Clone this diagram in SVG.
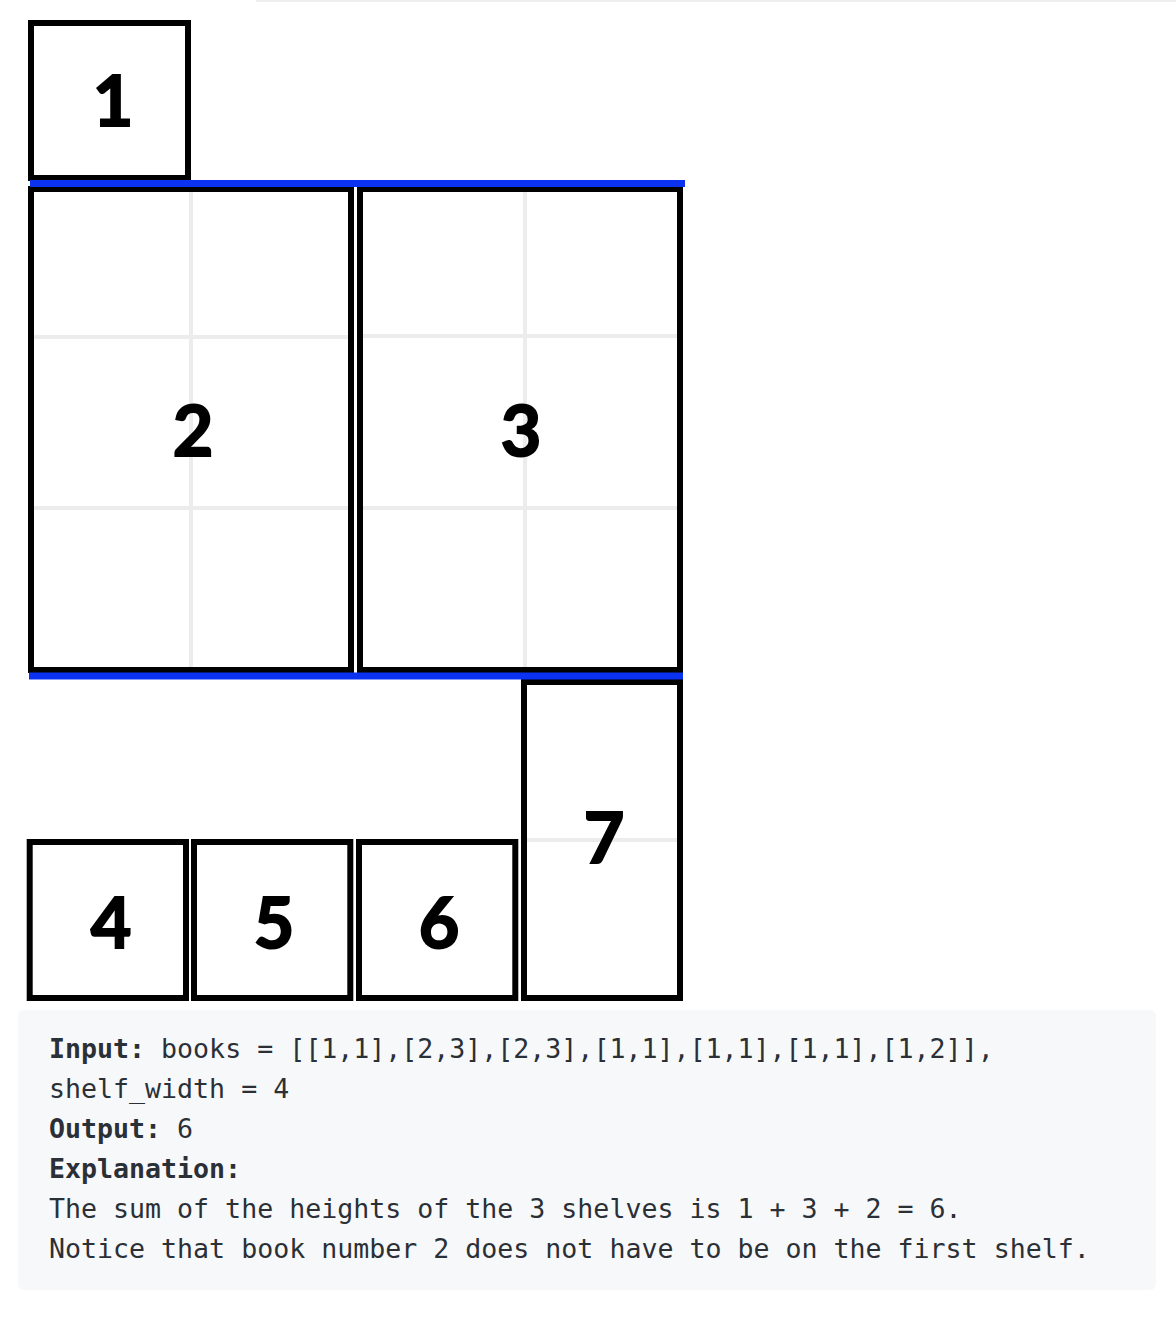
<svg xmlns="http://www.w3.org/2000/svg" width="1176" height="1326" viewBox="0 0 1176 1326">
<style>
.book{fill:#fff;stroke:#000;stroke-width:6}
.grid{stroke:#ececec;stroke-width:4}
.shelf{stroke:#0a32f0;stroke-width:7}
.num{font-family:Lato,"Open Sans",sans-serif;font-weight:700;font-size:70px;fill:#000;stroke:#000;stroke-width:2;text-anchor:middle}
.code{font-family:"DejaVu Sans Mono","Liberation Mono",monospace;font-size:26.6px;fill:#2b3036}
.b{font-weight:700}
</style>
<rect width="1176" height="1326" fill="#fff"/>
<line x1="256" y1="1" x2="1176" y2="1" stroke="#eeeeee" stroke-width="2"/>
<g id="book1"><rect class="book" x="31" y="23" width="157" height="155"/><text class="num" x="113" y="126">1</text></g>
<g id="book2"><rect class="book" x="31" y="189" width="320" height="481"/>
<line class="grid" x1="191" y1="192" x2="191" y2="667"/><line class="grid" x1="34" y1="337" x2="348" y2="337"/><line class="grid" x1="34" y1="508" x2="348" y2="508"/>
<text class="num" x="193" y="456">2</text></g>
<g id="book3"><rect class="book" x="360" y="189" width="320" height="481"/>
<line class="grid" x1="525" y1="192" x2="525" y2="667"/><line class="grid" x1="363" y1="336" x2="677" y2="336"/><line class="grid" x1="363" y1="508" x2="677" y2="508"/>
<text class="num" x="521" y="456">3</text></g>
<g id="book4"><rect class="book" x="29.7" y="842" width="156.3" height="156"/><text class="num" x="111" y="948">4</text></g>
<g id="book5"><rect class="book" x="194" y="842" width="156.3" height="156"/><text class="num" x="274" y="948">5</text></g>
<g id="book6"><rect class="book" x="359" y="842" width="156.3" height="156"/><text class="num" x="439" y="948">6</text></g>
<g id="book7"><rect class="book" x="524" y="682" width="156" height="316"/>
<line class="grid" x1="527" y1="840" x2="677" y2="840"/>
<text class="num" x="604" y="863">7</text></g>
<g id="connectors">
<line class="shelf" x1="30" y1="183.5" x2="685" y2="183.5"/>
<line class="shelf" x1="29" y1="676" x2="683" y2="676"/>
</g>
<g id="example">
<rect x="18" y="1010" width="1138" height="280" rx="6" fill="#f7f8fa"/>
<text class="code" x="49" y="1058"><tspan class="b">Input:</tspan> books = [[1,1],[2,3],[2,3],[1,1],[1,1],[1,1],[1,2]],</text>
<text class="code" x="49" y="1098">shelf_width = 4</text>
<text class="code" x="49" y="1138"><tspan class="b">Output:</tspan> 6</text>
<text class="code b" x="49" y="1178">Explanation:</text>
<text class="code" x="49" y="1218">The sum of the heights of the 3 shelves is 1 + 3 + 2 = 6.</text>
<text class="code" x="49" y="1258">Notice that book number 2 does not have to be on the first shelf.</text>
</g>
</svg>
